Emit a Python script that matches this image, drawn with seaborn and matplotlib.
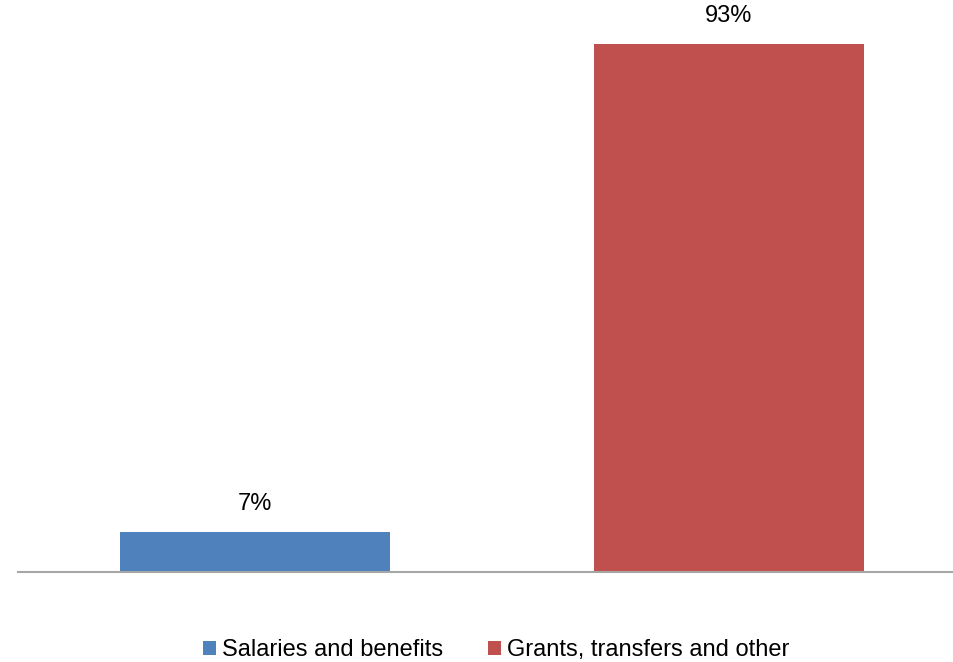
import matplotlib

matplotlib.use("Agg")

import matplotlib.pyplot as plt
import pandas as pd
import seaborn as sns
from matplotlib.patches import Patch

categories = ["Salaries and benefits", "Grants, transfers and other"]
shares = [0.07, 0.93]
labels = ["7%", "93%"]
colors = ["#4F81BD", "#C0504D"]

sns.set_style("white")
plt.rcParams["font.family"] = ["Liberation Sans", "DejaVu Sans"]
plt.rcParams["text.color"] = "black"

df = pd.DataFrame({"category": categories, "share": shares})

fig = plt.figure(figsize=(9.54, 6.62), dpi=100)
ax = fig.add_axes([18 / 954, 90 / 662, 1 - 18 / 954, 568 / 662])

sns.barplot(
    data=df,
    x="category",
    y="share",
    hue="category",
    palette=colors,
    saturation=1,
    width=0.57,
    dodge=False,
    legend=False,
    linewidth=0,
    ax=ax,
)

for i, (v, t) in enumerate(zip(shares, labels)):
    ax.text(i, v + 0.03, t, ha="center", va="bottom", fontsize=17, color="black")

ax.set_xlim(-0.5, 1.475)
ax.set_ylim(0, 1.0)
ax.set_xticks([])
ax.set_yticks([])
ax.set_xlabel("")
ax.set_ylabel("")
for side in ["top", "right", "left"]:
    ax.spines[side].set_visible(False)
ax.spines["bottom"].set_color("#A6A6A6")
ax.spines["bottom"].set_linewidth(1.5)

handles = [Patch(facecolor=c, edgecolor="none") for c in colors]
leg = fig.legend(
    handles,
    categories,
    loc="center",
    bbox_to_anchor=(496 / 954, 1 - 650 / 662),
    ncol=2,
    frameon=False,
    fontsize=17,
    handlelength=0.55,
    handleheight=0.55,
    handletextpad=0.25,
    columnspacing=1.9,
)
for txt in leg.get_texts():
    txt.set_color("black")

fig.savefig("out.png", dpi=100)
plt.close(fig)
